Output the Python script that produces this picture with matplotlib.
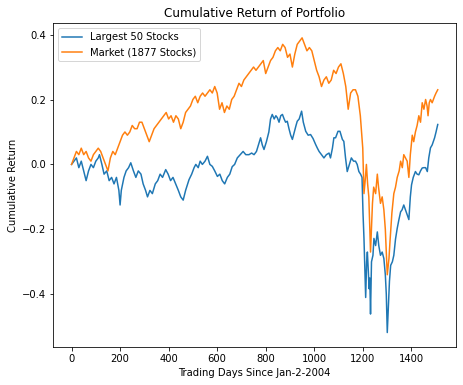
import matplotlib
matplotlib.use("Agg")
import matplotlib.pyplot as plt

# Largest 50 stocks (days since Jan-2-2004, cumulative return)
days_top50 = [0, 10, 20, 30, 40, 50, 60, 70, 80, 90, 100, 110, 115, 125, 134, 145, 155, 165, 175, 185,
              195, 200, 205, 216, 225, 235, 244, 255, 265, 275, 286, 295, 305, 313, 323, 333, 345, 355, 365, 375,
              388, 398, 408, 418, 429, 440, 450, 460, 470, 484, 495, 505, 512, 522, 530, 539, 550, 560, 570, 580,
              590, 601, 611, 621, 631, 642, 652, 662, 672, 683, 695, 707, 718, 731, 742, 752, 762, 770, 779, 786,
              793, 803, 813, 820, 827, 835, 842, 848, 855, 862, 869, 876, 882, 889, 896, 903, 910, 918, 925, 930,
              938, 948, 955, 965, 975, 985, 995, 1006, 1013, 1020, 1030, 1040, 1050, 1061, 1067, 1075, 1081, 1088, 1098, 1106,
              1116, 1122, 1129, 1136, 1145, 1153, 1162, 1170, 1177, 1184, 1191, 1197, 1201, 1205, 1209, 1212, 1216, 1219, 1223, 1226,
              1229, 1232, 1236, 1242, 1246, 1253, 1260, 1266, 1273, 1280, 1287, 1293, 1297, 1301, 1305, 1310, 1315, 1322, 1328, 1335,
              1342, 1349, 1356, 1362, 1369, 1376, 1383, 1390, 1396, 1401, 1408, 1417, 1424, 1431, 1438, 1445, 1452, 1459, 1466, 1472,
              1479, 1486, 1496, 1502, 1509]
ret_top50 = [0.00, 0.01, 0.02, -0.01, 0.01, -0.02, -0.05, -0.02, 0.00, -0.01, 0.01, 0.02, 0.03, 0.00, -0.03, -0.02, -0.05, -0.04, -0.06, -0.04,
             -0.08, -0.125, -0.08, -0.04, -0.02, -0.01, 0.005, -0.02, -0.04, -0.02, -0.03, -0.06, -0.08, -0.10, -0.08, -0.09, -0.06, -0.05, -0.03, -0.04,
             -0.016, -0.03, -0.05, -0.04, -0.06, -0.08, -0.10, -0.11, -0.08, -0.047, -0.03, -0.01, 0.00, -0.01, 0.01, 0.00, 0.01, 0.025, 0.00, -0.006,
             -0.02, -0.037, -0.03, -0.05, -0.06, -0.04, -0.03, -0.007, 0.00, 0.02, 0.03, 0.04, 0.03, 0.03, 0.035, 0.03, 0.04, 0.06, 0.082, 0.06,
             0.046, 0.07, 0.10, 0.14, 0.154, 0.14, 0.15, 0.144, 0.13, 0.15, 0.154, 0.14, 0.13, 0.133, 0.11, 0.09, 0.077, 0.10, 0.12, 0.133,
             0.14, 0.164, 0.13, 0.102, 0.09, 0.092, 0.08, 0.061, 0.05, 0.04, 0.03, 0.02, 0.03, 0.035, 0.02, 0.05, 0.082, 0.082, 0.102, 0.102,
             0.077, 0.071, 0.02, -0.022, 0.00, 0.02, 0.01, 0.01, 0.00, -0.022, -0.03, -0.04, -0.15, -0.228, -0.332, -0.41, -0.30, -0.27, -0.33, -0.383,
             -0.35, -0.461, -0.30, -0.28, -0.228, -0.25, -0.208, -0.25, -0.28, -0.27, -0.29, -0.34, -0.40, -0.518, -0.45, -0.36, -0.311, -0.30, -0.28, -0.23,
             -0.197, -0.17, -0.146, -0.14, -0.125, -0.14, -0.156, -0.17, -0.10, -0.063, -0.04, -0.022, -0.03, -0.032, -0.02, -0.011, -0.01, -0.01, -0.022, 0.02,
             0.051, 0.06, 0.082, 0.10, 0.123]

# Market (1877 stocks)
days_market = [0, 10, 20, 30, 40, 50, 60, 70, 80, 90, 100, 110, 120, 130, 140, 150, 160, 170, 180, 190,
               200, 210, 220, 230, 240, 250, 260, 270, 280, 290, 300, 310, 320, 330, 340, 350, 360, 370, 380, 390,
               400, 410, 420, 430, 440, 450, 460, 470, 480, 490, 500, 510, 520, 530, 540, 550, 560, 570, 580, 590,
               600, 610, 620, 630, 640, 650, 660, 670, 680, 690, 700, 710, 720, 730, 740, 750, 760, 770, 780, 790,
               800, 810, 820, 830, 840, 850, 860, 870, 880, 890, 900, 910, 920, 930, 940, 950, 960, 970, 980, 990,
               1000, 1010, 1020, 1030, 1040, 1050, 1060, 1070, 1080, 1090, 1100, 1110, 1120, 1130, 1140, 1150, 1160, 1170, 1180, 1190,
               1200, 1205, 1210, 1215, 1220, 1225, 1232, 1240, 1245, 1253, 1260, 1265, 1273, 1280, 1287, 1293, 1301, 1308, 1312, 1320,
               1328, 1335, 1342, 1350, 1356, 1363, 1369, 1376, 1383, 1390, 1396, 1404, 1410, 1417, 1424, 1431, 1438, 1445, 1452, 1459,
               1465, 1469, 1474, 1479, 1486, 1496, 1502, 1509]
ret_market = [0.00, 0.02, 0.04, 0.03, 0.05, 0.03, 0.04, 0.02, 0.01, 0.03, 0.04, 0.05, 0.04, 0.02, 0.00, -0.02, 0.02, 0.04, 0.03, 0.05,
              0.07, 0.09, 0.10, 0.09, 0.10, 0.12, 0.11, 0.11, 0.13, 0.13, 0.11, 0.09, 0.07, 0.09, 0.11, 0.12, 0.13, 0.14, 0.15, 0.16,
              0.14, 0.15, 0.13, 0.15, 0.14, 0.11, 0.13, 0.16, 0.17, 0.18, 0.20, 0.21, 0.19, 0.21, 0.22, 0.21, 0.22, 0.23, 0.22, 0.24,
              0.22, 0.17, 0.19, 0.16, 0.18, 0.17, 0.20, 0.21, 0.23, 0.25, 0.24, 0.26, 0.27, 0.28, 0.29, 0.30, 0.29, 0.30, 0.31, 0.32,
              0.28, 0.30, 0.32, 0.33, 0.35, 0.36, 0.35, 0.37, 0.36, 0.33, 0.34, 0.30, 0.34, 0.37, 0.38, 0.39, 0.37, 0.35, 0.36, 0.35,
              0.32, 0.29, 0.27, 0.24, 0.26, 0.27, 0.25, 0.26, 0.29, 0.28, 0.30, 0.31, 0.28, 0.24, 0.17, 0.22, 0.23, 0.23, 0.21, 0.15,
              0.05, -0.09, -0.05, 0.00, -0.06, -0.10, -0.27, -0.12, -0.07, -0.09, -0.03, -0.07, -0.12, -0.10, -0.14, -0.20, -0.34, -0.29, -0.24, -0.15,
              -0.09, -0.07, -0.04, -0.02, 0.01, -0.01, 0.03, 0.02, 0.01, -0.04, 0.03, 0.09, 0.07, 0.10, 0.12, 0.15, 0.13, 0.19, 0.17, 0.20,
              0.18, 0.15, 0.19, 0.20, 0.19, 0.21, 0.22, 0.23]

fig = plt.figure(figsize=(463 / 72, 385 / 72), dpi=72)
ax = fig.add_axes([0.115, 0.098, 0.870, 0.842])
ax.plot(days_top50, ret_top50, label="Largest 50 Stocks")
ax.plot(days_market, ret_market, label="Market (1877 Stocks)")
ax.set_title("Cumulative Return of Portfolio")
ax.set_xlabel("Trading Days Since Jan-2-2004")
ax.set_ylabel("Cumulative Return")
ax.legend(loc="upper left")
fig.savefig("out.png", dpi=72)
